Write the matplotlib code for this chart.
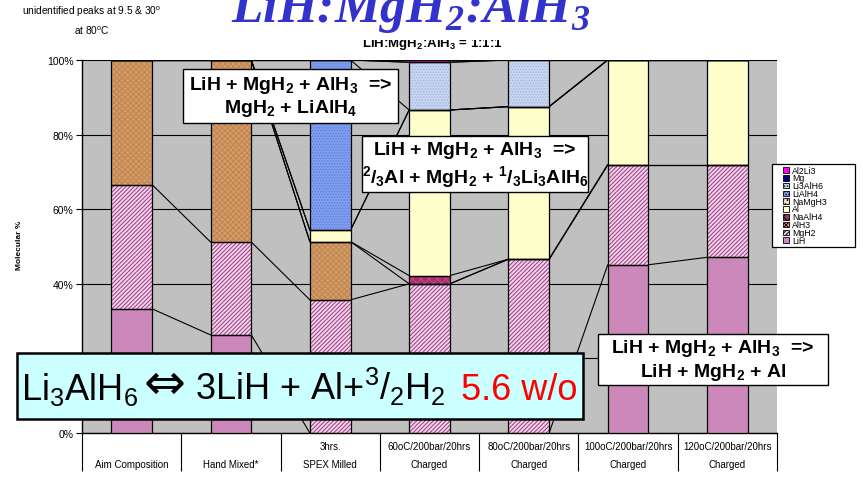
import numpy as np
import matplotlib.pyplot as plt
from matplotlib.patches import Rectangle

plt.rcParams['font.family'] = ['Liberation Sans', 'DejaVu Sans']
plt.rcParams['mathtext.fontset'] = 'custom'
plt.rcParams['mathtext.rm'] = 'Liberation Sans'
plt.rcParams['mathtext.it'] = 'Liberation Sans:italic'
plt.rcParams['mathtext.bf'] = 'Liberation Sans:bold'
plt.rcParams['mathtext.bfit'] = 'Liberation Serif:bold:italic'
plt.rcParams['hatch.linewidth'] = 0.7

# muestras (eje x)
muestras = ["\nAim Composition", "\nHand Mixed*", "3hrs.\nSPEX Milled",
            "60oC/200bar/20hrs\nCharged", "80oC/200bar/20hrs\nCharged",
            "100oC/200bar/20hrs\nCharged", "120oC/200bar/20hrs\nCharged"]

# % molar de cada fase (de abajo hacia arriba en la pila)
LiH     = [33.3, 26.3, 0.0, 0.0, 0.0, 45.1, 47.1]
MgH2    = [33.3, 24.9, 35.7, 40.0, 46.6, 26.8, 24.8]
AlH3    = [33.4, 48.8, 15.6, 0.0, 0.0, 0.0, 0.0]
NaAlH4  = [0.0, 0.0, 0.0, 2.2, 0.0, 0.0, 0.0]
Al      = [0.0, 0.0, 3.1, 44.4, 40.9, 28.1, 28.1]
NaMgH3  = [0.0, 0.0, 0.0, 0.0, 0.0, 0.0, 0.0]
LiAlH4  = [0.0, 0.0, 45.6, 0.0, 0.0, 0.0, 0.0]
Li3AlH6 = [0.0, 0.0, 0.0, 12.8, 12.5, 0.0, 0.0]
Mg      = [0.0, 0.0, 0.0, 0.0, 0.0, 0.0, 0.0]
Al2Li3  = [0.0, 0.0, 0.0, 0.6, 0.0, 0.0, 0.0]

fases = ["LiH", "MgH2", "AlH3", "NaAlH4", "Al", "NaMgH3", "LiAlH4", "Li3AlH6", "Mg", "Al2Li3"]
valores = [LiH, MgH2, AlH3, NaAlH4, Al, NaMgH3, LiAlH4, Li3AlH6, Mg, Al2Li3]
caras = ['#CC88BB', '#F2D2EA', '#D49C66', '#A0306A', '#FFFFCC',
         '#F2DCC8', '#7F9FF0', '#C8D6F0', '#000080', '#FF00FF']
tramas = [None, '////////', 'xxxxxx', 'xxxx', None, '....', '......', '......', None, None]
ctramas = ['#CC88BB', '#9A3A80', '#BF8450', '#CC4490', '#FFFFCC',
           '#C8A890', '#5F7FDD', '#A4B6E0', '#000080', '#FF00FF']

W, H = 863, 481
fig = plt.figure(figsize=(8.63, 4.81), dpi=100)
ax = fig.add_axes([82 / W, 47 / H, 695 / W, 373 / H])
ax.set_facecolor('#C0C0C0')

x = np.arange(len(muestras))
ancho = 0.41
base = np.zeros(len(muestras))
topes = []
for v, cara, trama, ct in zip(valores, caras, tramas, ctramas):
    v = np.array(v)
    ax.bar(x, v, ancho, bottom=base, color=cara, hatch=trama, edgecolor=ct, linewidth=0, zorder=3)
    ax.bar(x, v, ancho, bottom=base, fill=False, edgecolor='black', linewidth=0.9, zorder=4)
    base = base + v
    topes.append(base.copy())

# lineas de serie entre barras
for t in topes:
    for i in range(len(x) - 1):
        ax.plot([x[i] + ancho / 2, x[i + 1] - ancho / 2], [t[i], t[i + 1]],
                color='black', lw=0.8, zorder=2)

ax.set_xlim(-0.5, 6.5)
ax.set_ylim(0, 100)
ax.set_yticks(np.arange(0, 101, 20))
ax.set_yticklabels([f"{v}%" for v in range(0, 101, 20)])
ax.tick_params(axis='y', length=4, width=0.8, labelsize=7.5, pad=2)
ax.set_xticks(x)
ax.set_xticklabels(muestras, fontsize=7)
ax.set_xticks(np.arange(-0.5, 7, 1), minor=True)
ax.tick_params(axis='x', which='major', length=0, pad=6)
ax.tick_params(axis='x', which='minor', length=27, width=0.8)
for t in ax.get_xticklabels():
    t.set_linespacing(1.9)
ax.yaxis.grid(True, color='black', lw=0.8)
ax.set_axisbelow(True)
for s in ['top', 'right']:
    ax.spines[s].set_visible(False)
for s in ['left', 'bottom']:
    ax.spines[s].set_linewidth(1)

# leyenda dibujada a mano (filas apretadas como en el original)
fig.add_artist(Rectangle((772 / W, 1 - 248 / H), 83 / W, 83 / H, transform=fig.transFigure,
                         facecolor='white', edgecolor='black', lw=0.9, zorder=4))
for i, k in enumerate(range(len(fases) - 1, -1, -1)):
    yc = 171 + i * 7.8
    fig.add_artist(Rectangle((783 / W, 1 - (yc + 2.8) / H), 6 / W, 5.6 / H,
                             transform=fig.transFigure, facecolor=caras[k], hatch=tramas[k],
                             edgecolor='black', lw=0.6, zorder=5))
    fig.text(792 / W, 1 - yc / H, fases[k], ha='left', va='center', fontsize=6.3, zorder=6)

fig.text(19 / W, 1 - 245 / H, "Molecular %", rotation=90, ha='center', va='center',
         fontsize=6, fontweight='bold')

# titulos
fig.text(432 / W, 1 - 47 / H, r"LiH:MgH$_\mathbf{2}$:AlH$_\mathbf{3}$ = 1:1:1",
         ha='center', va='baseline', fontsize=9.5, fontweight='bold', zorder=3)
fig.add_artist(Rectangle((300 / W, 1 - 41 / H), 340 / W, 41 / H, transform=fig.transFigure,
                         facecolor='white', edgecolor='none', zorder=5))
fig.text(411 / W, 1 - 22 / H, r"LiH:MgH$_\mathbfit{2}$:AlH$_\mathbfit{3}$", ha='center',
         va='baseline', fontsize=37, color='#3333CC', family='Liberation Serif',
         fontweight='bold', style='italic', zorder=6)
fig.text(92 / W, 1 - 5 / H, "unidentified peaks at 9.5 & 30$^\\mathrm{o}$\nat 80$^\\mathrm{o}$C",
         ha='center', va='top', fontsize=7.3, linespacing=1.5)


def caja(x0, y0, x1, y1, texto, cara='white', lw=1.0):
    fig.add_artist(Rectangle((x0 / W, 1 - y1 / H), (x1 - x0) / W, (y1 - y0) / H,
                             transform=fig.transFigure, facecolor=cara, edgecolor='black',
                             lw=lw, zorder=5))
    if texto:
        fig.text((x0 + x1) / 2 / W, 1 - (y0 + y1) / 2 / H, texto, ha='center', va='center',
                 multialignment='center', fontsize=14, fontweight='bold', linespacing=1.15,
                 zorder=6)


caja(183, 70, 398, 124, "LiH + MgH$_\\mathbf{2}$ + AlH$_\\mathbf{3}$  =>\nMgH$_\\mathbf{2}$ + LiAlH$_\\mathbf{4}$")
caja(362, 137, 588, 193, "LiH + MgH$_\\mathbf{2}$ + AlH$_\\mathbf{3}$  =>\n"
     "$^\\mathbf{2}$/$_\\mathbf{3}$Al + MgH$_\\mathbf{2}$ + $^\\mathbf{1}$/$_\\mathbf{3}$Li$_\\mathbf{3}$AlH$_\\mathbf{6}$")
caja(598, 335, 828, 386, "LiH + MgH$_\\mathbf{2}$ + AlH$_\\mathbf{3}$  =>\nLiH + MgH$_\\mathbf{2}$ + Al")

caja(17, 354, 583, 420, None, cara='#CCFFFF', lw=1.8)
fig.text(21 / W, 1 - 400 / H, "Li$_3$AlH$_6$", ha='left', va='baseline', fontsize=26, zorder=6)
fig.text(164 / W, 1 - 399 / H, "\u21d4", ha='center', va='baseline', fontsize=36,
         family='DejaVu Sans', zorder=6)
fig.text(195 / W, 1 - 400 / H, "3LiH + Al+$^3$/$_2$H$_2$", ha='left', va='baseline',
         fontsize=26, zorder=6)
fig.text(577 / W, 1 - 400 / H, "5.6 w/o", ha='right', va='baseline', fontsize=26,
         color='#FF0000', zorder=6)

fig.savefig("out.png", dpi=100)
